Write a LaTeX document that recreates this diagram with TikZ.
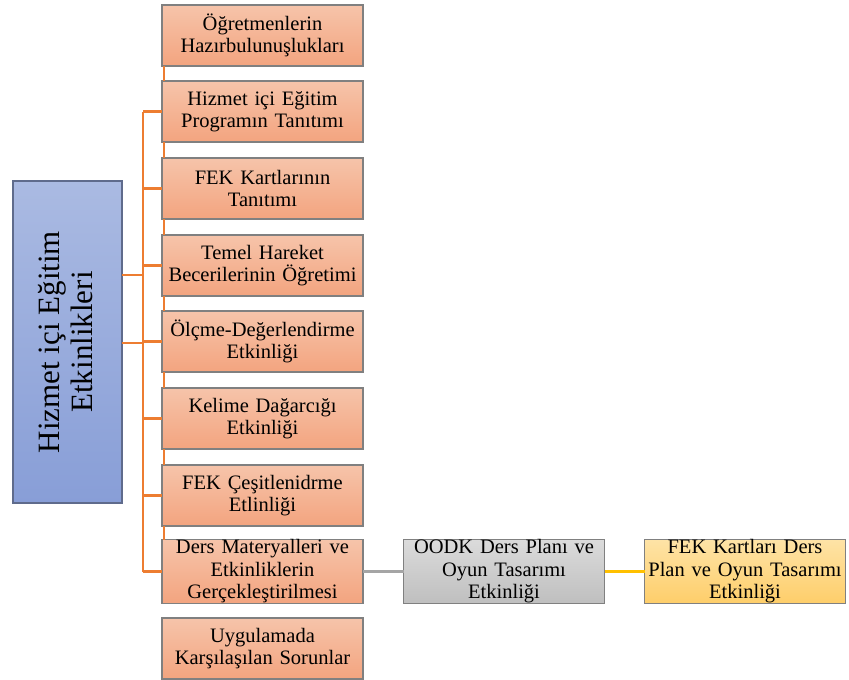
\documentclass[tikz,border=0pt]{standalone}
\usepackage{fontspec}
\setmainfont{Liberation Serif}
\begin{document}
\begin{tikzpicture}[x=1pt,y=-1pt,
  every node/.style={inner sep=0pt,outer sep=0pt},
  box/.style={rectangle,draw=boxedge,line width=1.1pt,minimum width=201pt,minimum height=61pt,
    text width=199pt,align=center,font=\fontsize{20.5}{22.5}\selectfont},
  orangebox/.style={box,top color=orgtop,bottom color=orgbot},
  graybox/.style={box,top color=graytop,bottom color=graybot},
  yellowbox/.style={box,top color=yeltop,bottom color=yelbot},
  rootbox/.style={rectangle,draw=rootedge,line width=1.1pt,minimum width=109pt,minimum height=322pt,
    top color=bluetop,bottom color=bluebot},
  orgline/.style={draw=orgline,line width=2.4pt},
  grayline/.style={draw=grayline,line width=2.4pt},
  yelline/.style={draw=yelline,line width=2.4pt}]
\definecolor{orgtop}{HTML}{F6C4AA}
\definecolor{orgbot}{HTML}{F3A47F}
\definecolor{graytop}{HTML}{DBDBDB}
\definecolor{graybot}{HTML}{BFBFBF}
\definecolor{yeltop}{HTML}{FEE3A6}
\definecolor{yelbot}{HTML}{FECE6A}
\definecolor{bluetop}{HTML}{AABAE2}
\definecolor{bluebot}{HTML}{889ED7}
\definecolor{boxedge}{HTML}{808080}
\definecolor{rootedge}{HTML}{5F6B8C}
\definecolor{orgline}{HTML}{ED7D31}
\definecolor{grayline}{HTML}{A5A5A5}
\definecolor{yelline}{HTML}{FFC000}
\useasboundingbox (0,0) rectangle (849,680);

% root box with rotated title
\node[rootbox] (root) at (67.5,342) {};
\node[rotate=90,align=center,font=\fontsize{31}{33}\selectfont] (roottext) at (66,342)
  {Hizmet içi Eğitim\\Etkinlikleri};

% child boxes
\node[orangebox] (b1) at (262.5,35.5) {Öğretmenlerin\\Hazırbulunuşlukları};
\node[orangebox] (b2) at (262.5,111.5) {Hizmet içi Eğitim\\Programın Tanıtımı};
\node[orangebox] (b3) at (262.5,188.5) {FEK Kartlarının\\Tanıtımı};
\node[orangebox] (b4) at (262.5,265.5) {Temel Hareket\\Becerilerinin Öğretimi};
\node[orangebox] (b5) at (262.5,341.5) {Ölçme-Değerlendirme\\Etkinliği};
\node[orangebox] (b6) at (262.5,418.5) {Kelime Dağarcığı\\Etkinliği};
\node[orangebox] (b7) at (262.5,495.5) {FEK Çeşitlenidrme\\Etlinliği};
\node[orangebox] (b8) at (262.5,571.5) {Ders Materyalleri ve\\Etkinliklerin\\Gerçekleştirilmesi};
\node[orangebox] (b9) at (262.5,648.5) {Uygulamada\\Karşılaşılan Sorunlar};
\node[graybox] (g1) at (504,571.5) {OODK Ders Planı ve\\Oyun Tasarımı\\Etkinliği};
\node[yellowbox] (y1) at (745,571.5) {FEK Kartları Ders\\Plan ve Oyun Tasarımı\\Etkinliği};

% bus joints
\coordinate (j1) at (143,275);
\coordinate (j2) at (143,343);

% links between stacked boxes
\foreach \a/\b in {b1/b2,b2/b3,b3/b4,b4/b5,b5/b6,b6/b7,b7/b8}
  \draw[orgline] ([xshift=2pt]\a.south west) -- ([xshift=2pt]\b.north west);

% root to bus
\draw[orgline] (root.east |- j1) -- (j1);
\draw[orgline] (root.east |- j2) -- (j2);

% vertical bus
\draw[orgline] (j1 |- b2.west) -- (j1 |- b8.west);

% branches to boxes
\foreach \n in {b2,b3,b4,b5,b6,b7,b8}
  \draw[orgline] (j1 |- \n.west) -- (\n.west);

% chain to the right
\draw[grayline] (b8.east) -- (g1.west);
\draw[yelline] (g1.east) -- (y1.west);
\end{tikzpicture}
\end{document}
